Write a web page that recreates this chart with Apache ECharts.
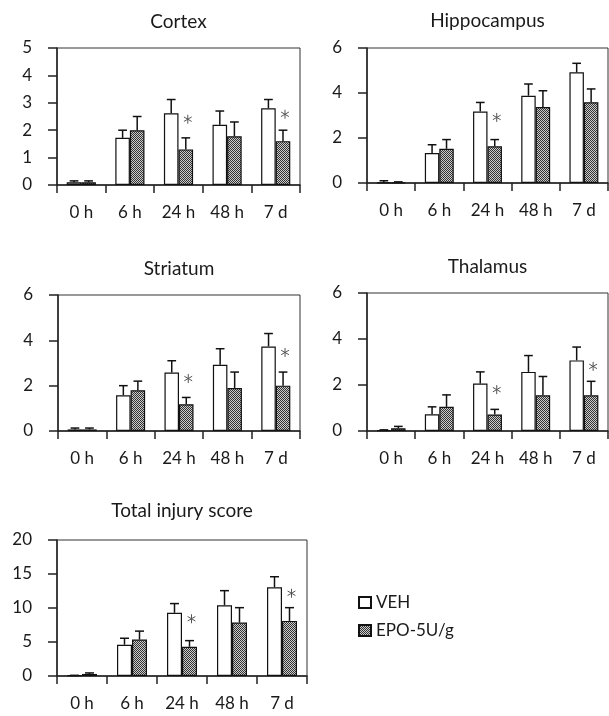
<!DOCTYPE html>
<html><head><meta charset="utf-8">
<script src="https://cdn.jsdelivr.net/npm/echarts@6/dist/echarts.min.js"></script>
<style>html,body{margin:0;padding:0;background:#fff}#c{width:609px;height:716px}</style>
</head><body><div id="c"></div>
<script>
// ---------- data ----------
const categories = ['0 h', '6 h', '24 h', '48 h', '7 d'];
const panelTitles = ['Cortex', 'Hippocampus', 'Striatum', 'Thalamus', 'Total injury score'];
const yMax = [5, 6, 6, 6, 20];
const yInterval = [1, 2, 2, 2, 5];
const seriesNames = ['VEH', 'EPO-5U/g'];

const cortexVeh = [0.1, 1.72, 2.62, 2.2, 2.8];
const cortexVehErr = [0.15, 2.0, 3.12, 2.7, 3.12];
const cortexEpo = [0.1, 2.0, 1.3, 1.78, 1.6];
const cortexEpoErr = [0.15, 2.5, 1.72, 2.3, 2.0];
const cortexSig = [0, 0, 1, 0, 1];

const hippoVeh = [0.02, 1.33, 3.18, 3.88, 4.92];
const hippoVehErr = [0.1, 1.7, 3.58, 4.4, 5.32];
const hippoEpo = [0.02, 1.52, 1.63, 3.38, 3.59];
const hippoEpoErr = [0.05, 1.93, 1.93, 4.1, 4.18];
const hippoSig = [0, 0, 1, 0, 0];

const striatumVeh = [0.07, 1.58, 2.58, 2.92, 3.73];
const striatumVehErr = [0.13, 2.0, 3.1, 3.63, 4.3];
const striatumEpo = [0.07, 1.8, 1.18, 1.9, 2.0];
const striatumEpoErr = [0.13, 2.2, 1.48, 2.6, 2.6];
const striatumSig = [0, 0, 1, 0, 1];

const thalamusVeh = [0.03, 0.73, 2.06, 2.57, 3.07];
const thalamusVehErr = [0.05, 1.05, 2.57, 3.28, 3.65];
const thalamusEpo = [0.12, 1.05, 0.72, 1.55, 1.55];
const thalamusEpoErr = [0.2, 1.57, 0.94, 2.37, 2.16];
const thalamusSig = [0, 0, 1, 0, 1];

const totalVeh = [0.1, 4.6, 9.3, 10.4, 13.05];
const totalVehErr = [0.1, 5.55, 10.65, 12.55, 14.6];
const totalEpo = [0.3, 5.35, 4.3, 7.85, 8.1];
const totalEpoErr = [0.45, 6.6, 5.2, 10.05, 10.05];
const totalSig = [0, 0, 1, 0, 1];

const panels = [
  [cortexVeh, cortexVehErr, cortexEpo, cortexEpoErr, cortexSig],
  [hippoVeh, hippoVehErr, hippoEpo, hippoEpoErr, hippoSig],
  [striatumVeh, striatumVehErr, striatumEpo, striatumEpoErr, striatumSig],
  [thalamusVeh, thalamusVehErr, thalamusEpo, thalamusEpoErr, thalamusSig],
  [totalVeh, totalVehErr, totalEpo, totalEpoErr, totalSig]
];

// ---------- layout / style ----------
const grids = [
  {left: 57, top: 48, width: 243, height: 137},
  {left: 367, top: 48, width: 241, height: 135},
  {left: 58, top: 295, width: 242, height: 136},
  {left: 367, top: 293, width: 241, height: 138},
  {left: 57, top: 540, width: 250, height: 136}
];
const titleY = [22, 21, 269, 267, 511];
const FONT = 'Lato, "DejaVu Sans", sans-serif';
const INK = '#1a1a1a';

const pc = document.createElement('canvas');
pc.width = 2; pc.height = 2;
const pctx = pc.getContext('2d');
pctx.fillStyle = '#cccccc'; pctx.fillRect(0, 0, 2, 2);
pctx.fillStyle = '#333333'; pctx.fillRect(0, 0, 1, 1); pctx.fillRect(1, 1, 1, 1);
const epoFill = {image: pc, repeat: 'repeat'};

function renderErr(params, api) {
  const ci = api.value(0), mean = api.value(1), top = api.value(2), g = api.value(3);
  const W = api.size([1, 0])[0];
  const bw = W * 0.3;
  const c0 = api.coord([ci, mean]);
  const x = c0[0] + (g === 0 ? -bw / 2 : bw / 2);
  const y1 = api.coord([ci, top])[1];
  const cap = bw * 0.3;
  return {
    type: 'group',
    children: [
      {type: 'line', shape: {x1: x, y1: c0[1], x2: x, y2: y1}, style: {stroke: '#111', lineWidth: 1.5}},
      {type: 'line', shape: {x1: x - cap, y1: y1, x2: x + cap, y2: y1}, style: {stroke: '#111', lineWidth: 1.5}}
    ]
  };
}
function renderStar(params, api) {
  const ci = api.value(0), vehMean = api.value(1);
  const W = api.size([1, 0])[0];
  const bw = W * 0.3;
  const c = api.coord([ci, vehMean]);
  const cx = c[0] + bw / 2 + 2, cy = c[1] + 6;
  const r = 4.5;
  const children = [];
  for (let k = 0; k < 3; k++) {
    const a = Math.PI / 2 + k * Math.PI / 3;
    children.push({type: 'line', shape: {x1: cx - r * Math.cos(a), y1: cy - r * Math.sin(a), x2: cx + r * Math.cos(a), y2: cy + r * Math.sin(a)},
      style: {stroke: '#555', lineWidth: 1}});
  }
  return {type: 'group', children};
}

const option = {
  animation: false,
  backgroundColor: '#fff',
  textStyle: {fontFamily: FONT},
  grid: grids.map(g => Object.assign({show: true, borderColor: '#333', borderWidth: 1, backgroundColor: 'transparent'}, g)),
  xAxis: grids.map((g, i) => ({
    type: 'category', gridIndex: i, data: categories, boundaryGap: true,
    axisLine: {lineStyle: {color: '#222', width: 1.5}},
    axisTick: {show: true, length: 8, alignWithLabel: false, interval: 0, lineStyle: {color: '#222', width: 1.5}},
    axisLabel: {margin: 19, fontSize: 17, color: INK, fontFamily: FONT, interval: 0}
  })),
  yAxis: grids.map((g, i) => ({
    type: 'value', gridIndex: i, min: 0, max: yMax[i], interval: yInterval[i],
    axisLine: {show: true, lineStyle: {color: '#222', width: 1.5}},
    axisTick: {show: true, length: 9, lineStyle: {color: '#222', width: 1.5}},
    splitLine: {show: false},
    axisLabel: {margin: 25, fontSize: 17, color: INK, fontFamily: FONT}
  })),
  legend: {
    orient: 'vertical', left: 353, top: 589, itemWidth: 12, itemHeight: 11, itemGap: 11,
    icon: 'rect', data: seriesNames,
    textStyle: {fontSize: 17, color: INK, fontFamily: FONT}
  },
  graphic: panelTitles.map((t, i) => ({
    type: 'text', x: grids[i].left + grids[i].width / 2, y: titleY[i],
    style: {text: t, fill: INK, font: '19px ' + FONT, textAlign: 'center', textVerticalAlign: 'middle'}
  })),
  series: []
};

panels.forEach((p, i) => {
  const [veh, vehErr, epo, epoErr, sig] = p;
  option.series.push({
    name: seriesNames[0], type: 'bar', xAxisIndex: i, yAxisIndex: i, data: veh,
    barGap: '0%', barCategoryGap: '40%',
    itemStyle: {color: '#fff', borderColor: '#111', borderWidth: 1.2}
  });
  option.series.push({
    name: seriesNames[1], type: 'bar', xAxisIndex: i, yAxisIndex: i, data: epo,
    barGap: '0%', barCategoryGap: '40%',
    itemStyle: {color: epoFill, borderColor: '#111', borderWidth: 1.2}
  });
  const errData = [];
  categories.forEach((c, k) => {
    errData.push([k, veh[k], vehErr[k], 0]);
    errData.push([k, epo[k], epoErr[k], 1]);
  });
  option.series.push({
    type: 'custom', xAxisIndex: i, yAxisIndex: i, data: errData, renderItem: renderErr, z: 5, silent: true
  });
  const starData = [];
  sig.forEach((s, k) => { if (s) starData.push([k, veh[k]]); });
  option.series.push({
    type: 'custom', xAxisIndex: i, yAxisIndex: i, data: starData, renderItem: renderStar, z: 6, silent: true
  });
});

const chart = echarts.init(document.getElementById('c'), null, {renderer: 'canvas'});
chart.setOption(option);
</script>
</body></html>
